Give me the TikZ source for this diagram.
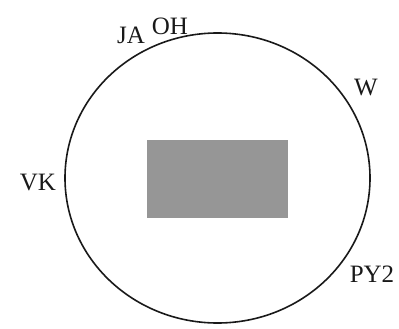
\documentclass[tikz,border=0pt]{standalone}
\usepackage{fontspec}
\setmainfont{Liberation Serif}
\usetikzlibrary{positioning}
\definecolor{colRing}{RGB}{25,25,25}
\definecolor{colCore}{RGB}{150,150,150}
\tikzset{
  ring/.style={draw=colRing, line width=1.6pt},
  core/.style={fill=colCore},
  siteLabel/.style={font=\fontsize{25}{27}\selectfont, text=colRing, inner sep=0pt},
}
\begin{document}
\begin{tikzpicture}[x=1pt, y=-1pt]
\useasboundingbox (0,0) rectangle (399,329);

% ---- Ring and core ---------------------------------------------
\draw[ring] (217.5,178) ellipse [x radius=152.5, y radius=145];
\fill[core] (147,140) rectangle (288,218);

% ---- Site labels -----------------------------------------------
\node[siteLabel] (ja)  at (131,35)  {JA};
\node[siteLabel] (oh)  at (170,26)  {OH};
\node[siteLabel] (w)   at (366,88)  {W};
\node[siteLabel] (vk)  at (38,183)  {VK};
\node[siteLabel] (py)  at (372,274) {PY2};

\end{tikzpicture}
\end{document}
